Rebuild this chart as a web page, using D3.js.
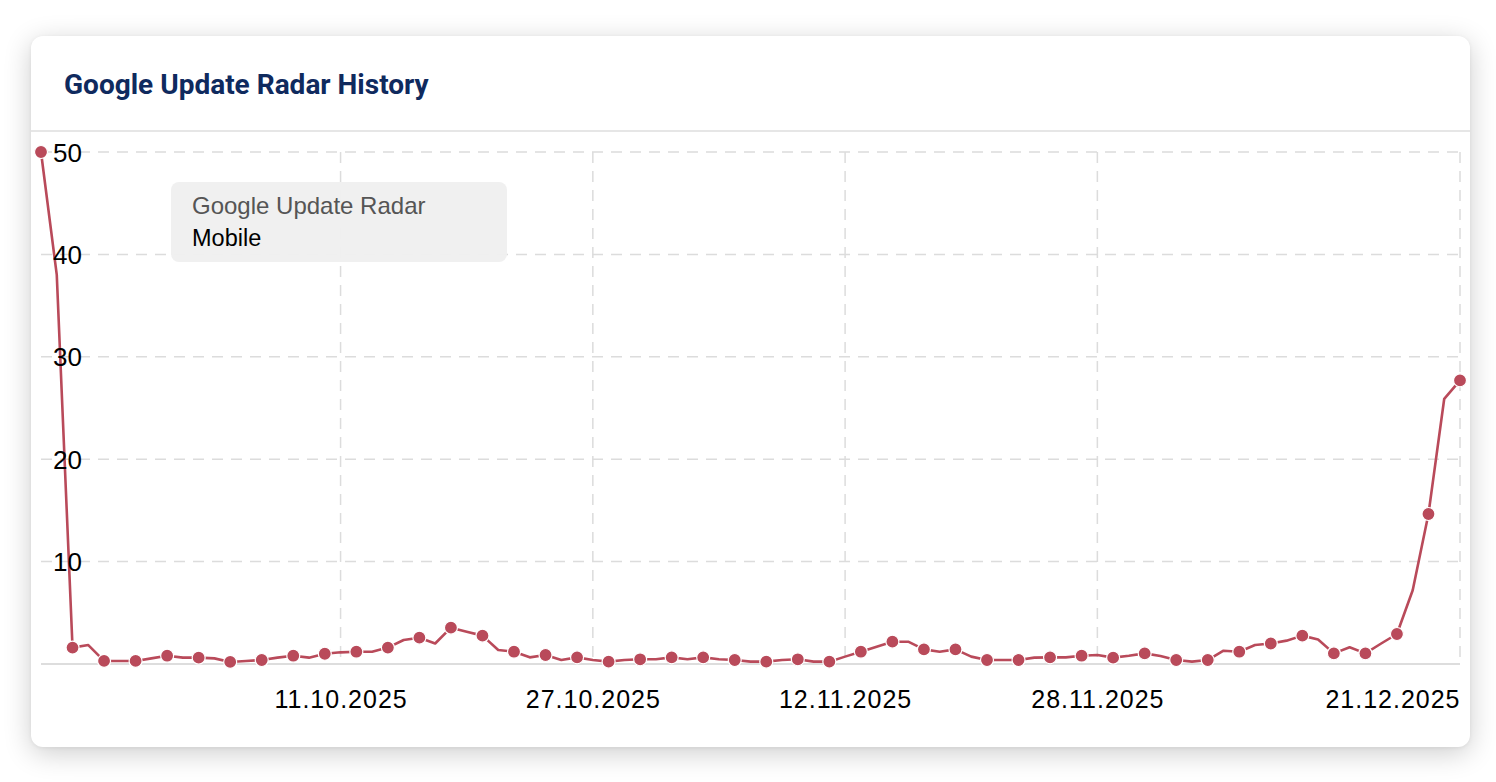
<!DOCTYPE html>
<html>
<head>
<meta charset="utf-8">
<script src="https://cdn.jsdelivr.net/npm/d3@7"></script>
<style>
  html, body { margin: 0; padding: 0; background: #ffffff; width: 1496px; height: 782px; overflow: hidden; }
  #card {
    position: absolute; left: 31px; top: 36px; width: 1439px; height: 711px;
    background: #fff; border-radius: 12px;
    box-shadow: 0 6px 28px rgba(0,0,0,0.20), 0 1px 4px rgba(0,0,0,0.06);
  }
  svg { position: absolute; left: 0; top: 0; }
</style>
</head>
<body>
<div id="card"></div>
<svg id="chart" width="1496" height="782"></svg>
<script>
// ---- data ----
const title = "Google Update Radar History";
const seriesGroup = "Google Update Radar";
const seriesName = "Mobile";
const startDate = "2025-09-22";
const endDate = "2025-12-21";
// daily values, 22.09.2025 .. 21.12.2025
const values = [
  50, 38.0, 1.6, 1.85, 0.3, 0.3, 0.3, 0.55, 0.81, 0.62,
  0.62, 0.55, 0.2, 0.3, 0.39, 0.62, 0.81, 0.62, 1.0, 1.14,
  1.2, 1.2, 1.6, 2.34, 2.57, 2.0, 3.55, 3.16, 2.77, 1.37,
  1.2, 0.65, 0.88, 0.39, 0.65, 0.39, 0.23, 0.39, 0.46, 0.46,
  0.65, 0.46, 0.65, 0.46, 0.39, 0.23, 0.23, 0.39, 0.46, 0.23,
  0.23, 0.72, 1.2, 1.69, 2.18, 2.18, 1.43, 1.2, 1.43, 0.72,
  0.39, 0.39, 0.39, 0.62, 0.65, 0.65, 0.81, 0.88, 0.62, 0.81,
  1.04, 0.78, 0.39, 0.23, 0.39, 1.3, 1.2, 1.85, 2.0, 2.28,
  2.77, 2.4, 1.04, 1.63, 1.04, 2.0, 2.93, 7.2, 14.65, 25.9,
  27.7
];
const xTickLabels = ["11.10.2025", "27.10.2025", "12.11.2025", "28.11.2025", "21.12.2025"];
const yTicks = [10, 20, 30, 40, 50];

// ---- layout ----
const svg = d3.select("#chart");
const plotL = 41, plotR = 1460, plotT = 152, plotB = 664;
const parseISO = d3.timeParse("%Y-%m-%d");
const parseDE = d3.timeParse("%d.%m.%Y");
const fmtDE = d3.timeFormat("%d.%m.%Y");
const dates = d3.timeDay.range(parseISO(startDate), d3.timeDay.offset(parseISO(endDate), 1));
const data = dates.map((d, i) => ({ date: d, value: values[i], i }));

const x = d3.scaleTime().domain([dates[0], dates[dates.length - 1]]).range([plotL, plotR]);
const y = d3.scaleLinear().domain([0, 50]).range([plotB, plotT]);

// header
svg.append("text")
  .attr("x", 64).attr("y", 94)
  .attr("font-family", "Roboto, sans-serif").attr("font-weight", 700)
  .attr("font-size", 28).attr("fill", "#0f2a5e")
  .text(title);
svg.append("line")
  .attr("x1", 31).attr("x2", 1470).attr("y1", 131).attr("y2", 131)
  .attr("stroke", "#e6e6e6").attr("stroke-width", 2);

// horizontal grid
svg.append("g").selectAll("line").data(yTicks).join("line")
  .attr("x1", plotL).attr("x2", plotR)
  .attr("y1", d => y(d)).attr("y2", d => y(d))
  .attr("stroke", "#dcdcdc").attr("stroke-width", 1.5)
  .attr("stroke-dasharray", "11,8");

// vertical grid at tick dates
const tickDates = xTickLabels.map(s => parseDE(s));
svg.append("g").selectAll("line").data(tickDates).join("line")
  .attr("x1", d => x(d)).attr("x2", d => x(d))
  .attr("y1", plotT).attr("y2", plotB)
  .attr("stroke", "#dcdcdc").attr("stroke-width", 1.5)
  .attr("stroke-dasharray", "11,8");

// x axis line
svg.append("line")
  .attr("x1", plotL).attr("x2", plotR).attr("y1", plotB).attr("y2", plotB)
  .attr("stroke", "#dddddd").attr("stroke-width", 2);

// x axis labels
const xAxis = d3.axisBottom(x).tickValues(tickDates).tickFormat(fmtDE).tickSize(0).tickPadding(0);
const gx = svg.append("g").attr("transform", `translate(0,${plotB})`).call(xAxis);
gx.select(".domain").remove();
gx.selectAll("text")
  .attr("y", 44).attr("dy", null)
  .attr("font-family", "'Liberation Sans', Arial, Helvetica, sans-serif")
  .attr("font-size", 25).attr("letter-spacing", 1.0).attr("fill", "#000")
  .attr("text-anchor", (d, i, n) => i === n.length - 1 ? "end" : "middle");

// line
const line = d3.line().x(d => x(d.date)).y(d => y(d.value));
svg.append("path").datum(data)
  .attr("fill", "none").attr("stroke", "#b94a5a").attr("stroke-width", 2.6)
  .attr("stroke-linejoin", "round")
  .attr("d", line);

// markers (every other point)
svg.append("g").selectAll("circle").data(data.filter(d => d.i % 2 === 0)).join("circle")
  .attr("cx", d => x(d.date)).attr("cy", d => y(d.value))
  .attr("r", 6.5).attr("fill", "#b94a5a").attr("stroke", "#fff").attr("stroke-width", 1.2);

// y axis labels (inside plot)
const yAxis = d3.axisLeft(y).tickValues(yTicks).tickSize(0).tickPadding(0);
const gy = svg.append("g").attr("transform", `translate(82,0)`).call(yAxis);
gy.select(".domain").remove();
gy.selectAll("text")
  .attr("x", 0).attr("dy", "0.35em")
  .attr("font-family", "'Liberation Sans', Arial, Helvetica, sans-serif")
  .attr("font-size", 26).attr("fill", "#000")
  .attr("text-anchor", "end");

// tooltip box
const tip = svg.append("g").attr("transform", "translate(171,182)");
tip.append("rect").attr("width", 336).attr("height", 80).attr("rx", 8)
  .attr("fill", "#efefef").attr("fill-opacity", 0.95);
tip.append("text").attr("x", 21).attr("y", 32)
  .attr("font-family", "'Liberation Sans', Arial, Helvetica, sans-serif")
  .attr("font-size", 24).attr("fill", "#555")
  .text(seriesGroup);
tip.append("text").attr("x", 21).attr("y", 64)
  .attr("font-family", "'Liberation Sans', Arial, Helvetica, sans-serif")
  .attr("font-size", 23.5).attr("fill", "#000")
  .text(seriesName);
</script>
</body>
</html>
